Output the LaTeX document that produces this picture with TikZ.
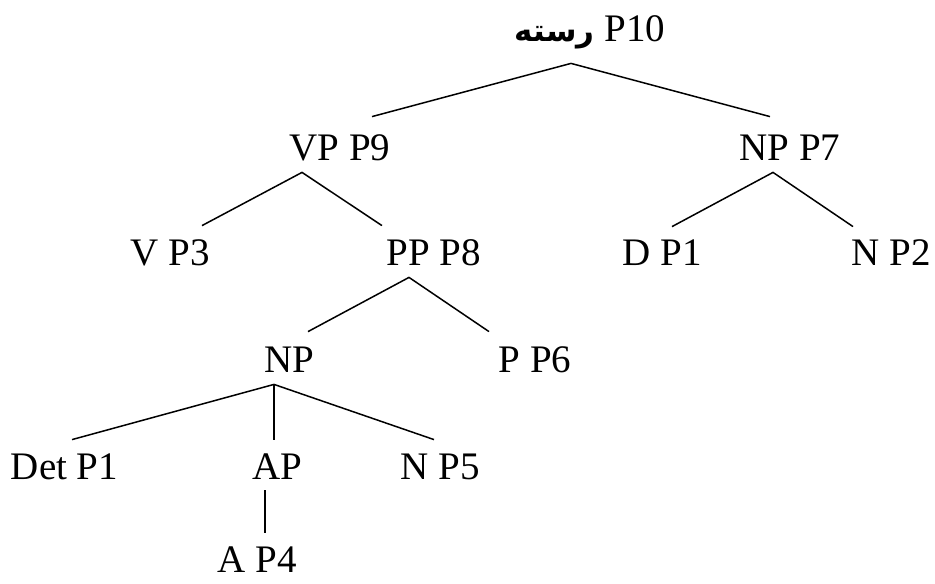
\documentclass[tikz,border=0pt]{standalone}
\usepackage{fontspec}
\setmainfont{Liberation Serif}
\newfontfamily\arabicfont[Script=Arabic]{DejaVu Sans}
\TeXXeTstate=1
\usepackage{tikz}

\tikzset{
  cat/.style={anchor=base, inner sep=0pt, text height=13.65pt, text depth=3.9pt,
    font=\fontsize{19.5}{23}\selectfont},
  branch/.style={line width=0.75pt}
}

\begin{document}
\begin{tikzpicture}[x=0.5pt,y=0.5pt,yscale=-1,xscale=1]
\useasboundingbox (0,0) rectangle (935,583);

% Text Node
\node[cat] (root) at (590,42) {{\arabicfont\bfseries\fontsize{15.5}{20}\selectfont\beginR رسته\endR} P10};
% Text Node
\node[cat] (vp) at (340,160) {VP P9};
% Text Node
\node[cat] (np7) at (790,160) {NP P7};
% Text Node
\node[cat] (v) at (170.5,265) {V P3};
% Text Node
\node[cat] (pp) at (433.5,265) {PP P8};
% Text Node
\node[cat] (d) at (662,265) {D P1};
% Text Node
\node[cat] (n2) at (891.5,265) {N P2};
% Text Node
\node[cat] (np) at (289.5,372) {NP};
% Text Node
\node[cat] (p) at (535,372) {P P6};
% Text Node
\node[cat] (det) at (64.5,479) {Det P1};
% Text Node
\node[cat] (ap) at (277,479) {AP};
% Text Node
\node[cat] (n5) at (440,479) {N P5};
% Text Node
\node[cat] (a) at (257.5,572) {A P4};

%Straight Lines
\draw[branch] ([shift={(32,-15.7)}]vp.north) -- ([shift={(-19,13.2)}]root.south) -- ([shift={(-20,-15.7)}]np7.north);
%Straight Lines
\draw[branch] ([shift={(31.5,-11.7)}]v.north) -- ([shift={(-38,4.2)}]vp.south) -- ([shift={(-51.5,-11.7)}]pp.north);
%Straight Lines
\draw[branch] ([shift={(10,-10.7)}]d.north) -- ([shift={(-17,4.2)}]np7.south) -- ([shift={(-38.5,-10.7)}]n2.north);
%Straight Lines
\draw[branch] ([shift={(18.5,-12.7)}]np.north) -- ([shift={(-24.5,4.2)}]pp.south) -- ([shift={(-46,-12.7)}]p.north);
%Straight Lines
\draw[branch] ([shift={(7.5,-11.7)}]det.north) -- ([shift={(-15.5,4.2)}]np.south) -- ([shift={(-6,-11.7)}]n5.north);
\draw[branch] ([shift={(-15.5,4.2)}]np.south) -- ([shift={(-3,-11.7)}]ap.north);
%Straight Lines
\draw[branch] ([shift={(-12,3.2)}]ap.south) -- ([shift={(7.5,-11)}]a.north);
\end{tikzpicture}
\end{document}
